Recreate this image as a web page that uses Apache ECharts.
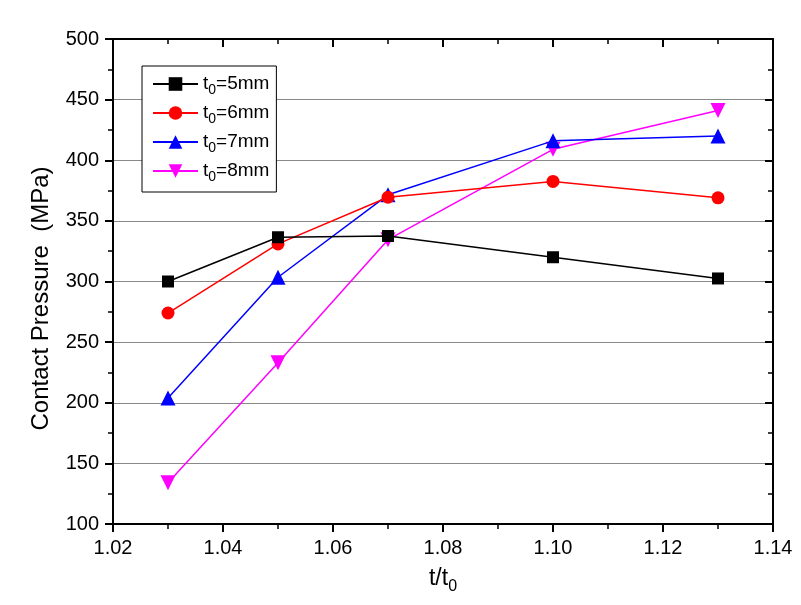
<!DOCTYPE html>
<html><head><meta charset="utf-8">
<script src="https://cdn.jsdelivr.net/npm/echarts@6/dist/echarts.min.js"></script>
<style>html,body{margin:0;padding:0;background:#fff}#c{width:801px;height:605px}</style>
</head><body><div id="c"></div>
<script>
var xValues = [1.03, 1.05, 1.07, 1.10, 1.13];
var seriesNames = ['t0=5mm', 't0=6mm', 't0=7mm', 't0=8mm'];
var s5mm = [300, 336.5, 337.5, 320, 302.5];
var s6mm = [274, 331, 369.5, 382.5, 369];
var s7mm = [204, 303.5, 371.5, 416, 420];
var s8mm = [134, 233, 334.5, 409, 441];
var colors = ['#000000', '#ff0000', '#0000ff', '#ff00ff'];
var symbols = ['rect', 'circle', 'triangle', 'path://M0,0 L10,0 L5,9 Z'];
var symbolSizes = [12, 13, 15, 15];
var allData = [s5mm, s6mm, s7mm, s8mm];

var FONT = '"Liberation Sans", Arial, sans-serif';
var chart = echarts.init(document.getElementById('c'));
var series = allData.map(function (vals, i) {
  return {
    name: seriesNames[i], type: 'line',
    data: xValues.map(function (x, j) { return [x, vals[j]]; }),
    symbol: symbols[i], symbolSize: symbolSizes[i],
    itemStyle: { color: colors[i] },
    lineStyle: { color: colors[i], width: 1.5 },
    z: 10 - i
  };
});
var subRich = {
  a: { fontFamily: FONT, fontSize: 19, color: '#000', lineHeight: 22 },
  s: { fontFamily: FONT, fontSize: 14, color: '#000', lineHeight: 22, padding: [12, 0, 0, 0] }
};
chart.setOption({
  animation: false,
  backgroundColor: '#fff',
  grid: { left: 113, right: 28, top: 39, bottom: 81 },
  legend: {
    orient: 'vertical', left: 142, top: 66,
    borderColor: '#000', borderWidth: 1, backgroundColor: '#fff',
    padding: [5, 7, 8, 10], itemGap: 3, itemWidth: 45, itemHeight: 17,
    data: seriesNames,
    formatter: function (n) { return '{a|t}{s|0}{a|' + n.slice(2) + '}'; },
    textStyle: { rich: subRich }
  },
  xAxis: [{
    type: 'value', min: 1.02, max: 1.14, interval: 0.02,
    name: '{a|t/t}{s|0}', nameLocation: 'middle', nameGap: 39,
    nameTextStyle: { rich: { a: { fontFamily: FONT, fontSize: 23, color: '#000' }, s: { fontFamily: FONT, fontSize: 16, color: '#000', padding: [16, 0, 0, 0] } } },
    axisLine: { lineStyle: { color: '#000', width: 2 } },
    axisTick: { inside: false, length: 8, lineStyle: { color: '#000', width: 2 } },
    minorTick: { show: true, splitNumber: 2, length: 5, lineStyle: { color: '#000', width: 1.5 } },
    axisLabel: { fontFamily: FONT, fontSize: 20, color: '#000', margin: 14, formatter: function (v) { return v.toFixed(2); } },
    splitLine: { show: false }
  }, {
    type: 'value', position: 'top', min: 1.02, max: 1.14, interval: 0.02,
    axisLine: { show: true, lineStyle: { color: '#000', width: 2 } },
    axisTick: { show: true, inside: true, length: 8, lineStyle: { color: '#000', width: 2 } },
    minorTick: { show: true, splitNumber: 2, length: 5, lineStyle: { color: '#000', width: 1.5 } },
    axisLabel: { show: false }, splitLine: { show: false }
  }],
  yAxis: [{
    type: 'value', min: 100, max: 500, interval: 50,
    name: 'Contact Pressure  (MPa)', nameLocation: 'middle', nameGap: 60,
    nameTextStyle: { fontFamily: FONT, fontSize: 24, color: '#000', padding: [0, 34, 0, 0] },
    axisLine: { show: true, lineStyle: { color: '#000', width: 2 } },
    axisTick: { show: true, inside: false, length: 8, lineStyle: { color: '#000', width: 2 } },
    minorTick: { show: true, splitNumber: 2, length: 5, lineStyle: { color: '#000', width: 1.5 } },
    axisLabel: { fontFamily: FONT, fontSize: 20, color: '#000', margin: 14 },
    splitLine: { show: true, lineStyle: { color: '#888', width: 1 } }
  }, {
    type: 'value', position: 'right', min: 100, max: 500, interval: 50,
    axisLine: { show: true, lineStyle: { color: '#000', width: 2 } },
    axisTick: { show: true, inside: true, length: 8, lineStyle: { color: '#000', width: 2 } },
    minorTick: { show: true, splitNumber: 2, length: 5, lineStyle: { color: '#000', width: 1.5 } },
    axisLabel: { show: false }, splitLine: { show: false }
  }],
  series: series
});
</script></body></html>
